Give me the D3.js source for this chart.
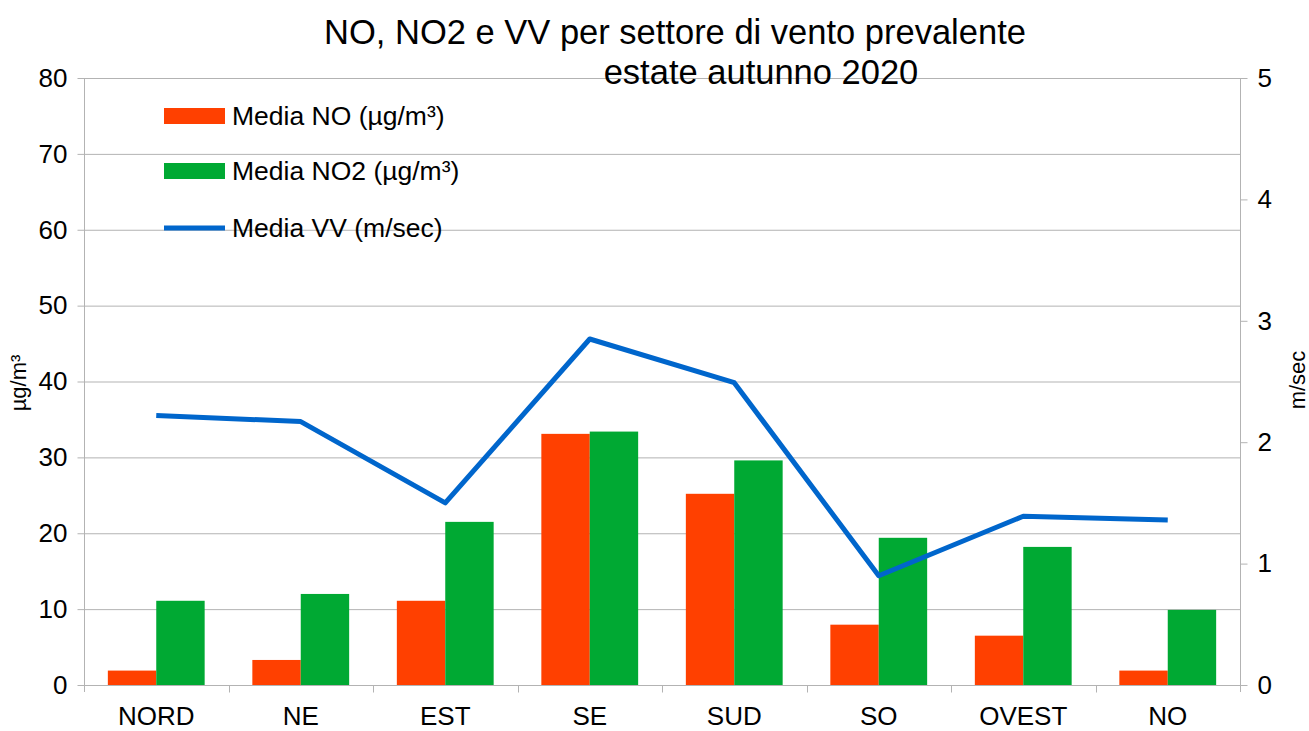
<!DOCTYPE html>
<html><head><meta charset="utf-8">
<script src="https://cdn.jsdelivr.net/npm/d3@7"></script>
<style>body{margin:0;background:#fff}svg{display:block;font-family:"Liberation Sans",Arial,sans-serif}</style>
</head><body>
<svg id="c" width="1309" height="731"></svg>
<script>
const categories = ["NORD","NE","EST","SE","SUD","SO","OVEST","NO"];
const mediaNO  = [1.9, 3.3, 11.1, 33.1, 25.2, 7.95, 6.5, 1.9];
const mediaNO2 = [11.1, 12.0, 21.5, 33.4, 29.6, 19.4, 18.2, 9.9];
const mediaVV  = [2.22, 2.17, 1.5, 2.85, 2.49, 0.9, 1.39, 1.36];
const leftTicks = [0,10,20,30,40,50,60,70,80];
const rightTicks = [0,1,2,3,4,5];
const seriesNames = ["Media NO (µg/m³)","Media NO2 (µg/m³)","Media VV (m/sec)"];
const colors = ["#ff4000","#00a933","#0066cc"];

const svg = d3.select("#c");
const L = 84, R = 1240, T = 78, B = 685;
const x = d3.scaleBand().domain(categories).range([L,R]).padding(0);
const yL = d3.scaleLinear().domain([0,80]).range([B,T]);
const yR = d3.scaleLinear().domain([0,5]).range([B,T]);
const grid = "#b3b3b3";

// gridlines
svg.append("g").selectAll("line").data(leftTicks).join("line")
  .attr("x1",L).attr("x2",R).attr("y1",d=>yL(d)+0.5).attr("y2",d=>yL(d)+0.5)
  .attr("stroke",grid).attr("stroke-width",1);

// bars
const bw = x.bandwidth()*0.335;
const g = svg.append("g");
g.selectAll("rect.no").data(categories).join("rect")
  .attr("x",(d)=>x(d)+x.bandwidth()/2-bw).attr("width",bw)
  .attr("y",(d,i)=>yL(mediaNO[i])).attr("height",(d,i)=>B-yL(mediaNO[i]))
  .attr("fill",colors[0]);
g.selectAll("rect.no2").data(categories).join("rect")
  .attr("x",(d)=>x(d)+x.bandwidth()/2).attr("width",bw)
  .attr("y",(d,i)=>yL(mediaNO2[i])).attr("height",(d,i)=>B-yL(mediaNO2[i]))
  .attr("fill",colors[1]);

// line
const line = d3.line().x((d,i)=>x(categories[i])+x.bandwidth()/2).y(d=>yR(d));
svg.append("path").datum(mediaVV).attr("d",line).attr("fill","none")
  .attr("stroke",colors[2]).attr("stroke-width",5).attr("stroke-linejoin","round");

// axes
const fs = "26px";
const axL = svg.append("g").attr("transform",`translate(${L+0.5},0)`)
  .call(d3.axisLeft(yL).tickValues(leftTicks).tickSize(7).tickPadding(10).tickFormat(d3.format("d")));
const axR = svg.append("g").attr("transform",`translate(${R+0.5},0)`)
  .call(d3.axisRight(yR).tickValues(rightTicks).tickSize(7).tickPadding(10).tickFormat(d3.format("d")));
const axB = svg.append("g").attr("transform",`translate(0,${B+0.5})`)
  .call(d3.axisBottom(x).tickSize(0).tickPadding(21.5));
[axL,axR,axB].forEach(a=>{
  a.selectAll("path.domain").attr("stroke",grid);
  a.selectAll(".tick line").attr("stroke",grid);
  a.selectAll("text").attr("font-size",fs).attr("fill","#000").attr("font-family","Liberation Sans, Arial, sans-serif");
});
axL.select("path.domain").attr("d",`M0,${T}V${B+7}`);
axR.select("path.domain").attr("d",`M0,${T}V${B+7}`);
axB.select("path.domain").attr("d",`M${L},0H${R}`);
// category separators
axB.append("g").selectAll("line").data(categories.slice(1)).join("line")
  .attr("x1",d=>Math.round(x(d))+0.5).attr("x2",d=>Math.round(x(d))+0.5)
  .attr("y1",0).attr("y2",7).attr("stroke",grid);

// axis titles
svg.append("text").attr("transform","translate(26,383) rotate(-90)")
  .attr("text-anchor","middle").attr("font-size","22px").text("µg/m³");
svg.append("text").attr("transform","translate(1305,380) rotate(-90)")
  .attr("text-anchor","middle").attr("font-size","22px").text("m/sec");

// title
svg.append("text").attr("x",675).attr("y",44).attr("text-anchor","middle")
  .attr("font-size","34.5px").text("NO, NO2 e VV per settore di vento prevalente");
svg.append("text").attr("x",761).attr("y",84).attr("text-anchor","middle")
  .attr("font-size","34.5px").text("estate autunno 2020");

// legend
const legY = [116,171,228];
const lg = svg.append("g");
lg.selectAll("rect").data([0,1]).join("rect")
  .attr("x",164).attr("y",d=>legY[d]-8).attr("width",61).attr("height",16).attr("fill",d=>colors[d]);
lg.append("line").attr("x1",164).attr("x2",225).attr("y1",legY[2]).attr("y2",legY[2])
  .attr("stroke",colors[2]).attr("stroke-width",5);
lg.selectAll("text").data(seriesNames).join("text")
  .attr("x",232).attr("y",(d,i)=>legY[i]+9).attr("font-size","26.5px").text(d=>d);
</script>
</body></html>
